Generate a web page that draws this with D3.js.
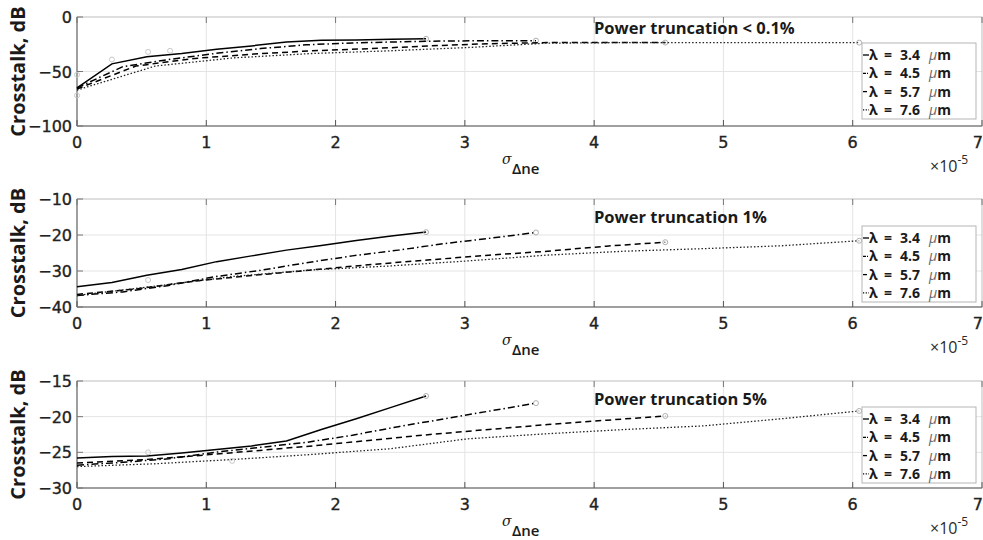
<!DOCTYPE html>
<html lang="en">
<head>
<meta charset="utf-8">
<title>Crosstalk</title>
<script src="https://cdn.jsdelivr.net/npm/d3@7"></script>
<style>
  body { margin: 0; background: #fff; }
  svg { display: block; font-family: "Open Sans", "DejaVu Sans", sans-serif; }
  .grid line { stroke: #e4e4e4; stroke-width: 1; }
  .tick-label { font-family: "DejaVu Sans", sans-serif; font-size: 16px; fill: #222; stroke: #222; stroke-width: 0.35px; }
  .ylabel { font-size: 20px; font-weight: 700; fill: #1a1a1a; }
  .title { font-size: 16.5px; font-weight: 700; fill: #1a1a1a; }
  .legend-text { font-size: 14px; font-weight: 700; fill: #1a1a1a; }
</style>
</head>
<body>
<svg width="983" height="540"></svg>
<script>

// x positions (x 1e-5) for each wavelength
var x34 = [0, 0.27, 0.54, 0.81, 1.08, 1.35, 1.62, 1.89, 2.16, 2.43, 2.70];
var x45 = [0, 0.355, 0.71, 1.065, 1.42, 1.775, 2.13, 2.485, 2.84, 3.195, 3.55];
var x57 = [0, 0.455, 0.91, 1.365, 1.82, 2.275, 2.73, 3.185, 3.64, 4.095, 4.55];
var x76 = [0, 0.605, 1.21, 1.815, 2.42, 3.025, 3.63, 4.235, 4.84, 5.445, 6.05];

var lambdas = ["3.4", "4.5", "5.7", "7.6"];
var xTicks = [0, 1, 2, 3, 4, 5, 6, 7];

// power truncation < 0.1%
var p1_34 = [-65, -43, -36.5, -33.5, -29.5, -26.5, -23, -21.3, -21, -20.5, -20];
var p1_45 = [-65, -45.5, -39, -33.5, -29, -25.5, -23.8, -22.8, -22, -21.8, -21.7];
var p1_57 = [-66, -45, -38, -34, -31, -29, -26.5, -24.5, -23.5, -23.5, -23.5];
var p1_76 = [-67, -45, -37.5, -33.5, -31, -28, -24, -23.5, -23.5, -23.5, -23.5];
var p1_yTicks = [0, -50, -100];

// power truncation 1%
var p2_34 = [-34.4, -33.2, -31.2, -29.6, -27.4, -25.8, -24.2, -22.9, -21.5, -20.3, -19.2];
var p2_45 = [-36.8, -35.8, -34, -31.6, -29.8, -27.7, -25.8, -24.2, -22.4, -20.9, -19.3];
var p2_57 = [-36.5, -35, -32.8, -31.2, -29.7, -28.2, -26.9, -25.6, -24.5, -23.1, -22];
var p2_76 = [-36.8, -34.2, -31.5, -29.7, -28.6, -27.2, -25.6, -24.5, -23.8, -23, -21.6];
var p2_yTicks = [-10, -20, -30, -40];

// power truncation 5%
var p3_34 = [-25.8, -25.6, -25.5, -25.1, -24.6, -24.1, -23.4, -21.8, -20.3, -18.7, -17.1];
var p3_45 = [-26.8, -26.4, -25.9, -25, -24.3, -23.6, -22.6, -21.4, -20.3, -19.2, -18.1];
var p3_57 = [-26.5, -26.1, -25.5, -24.8, -24.1, -23.3, -22.5, -21.8, -21.1, -20.5, -19.9];
var p3_76 = [-27, -26.6, -26, -25.3, -24.5, -23.1, -22.4, -21.8, -21.3, -20.3, -19.2];
var p3_yTicks = [-15, -20, -25, -30];

// faint gray sample markers
var p1_marks = [[0, -53], [0, -72], [0.27, -39], [0.55, -32], [0.72, -31]];
var p2_marks = [[0.55, -32.5]];
var p3_marks = [[0.55, -25], [1.2, -26.2]];

var panels = [
  { title: "Power truncation < 0.1%", top: 17, bottom: 126, ys: [p1_34, p1_45, p1_57, p1_76], yTicks: p1_yTicks, marks: p1_marks, legTop: 43 },
  { title: "Power truncation 1%", top: 199, bottom: 307, ys: [p2_34, p2_45, p2_57, p2_76], yTicks: p2_yTicks, marks: p2_marks, legTop: 226 },
  { title: "Power truncation 5%", top: 381, bottom: 488, ys: [p3_34, p3_45, p3_57, p3_76], yTicks: p3_yTicks, marks: p3_marks, legTop: 407 }
];

var xs = [x34, x45, x57, x76];
var dashes = [null, "7,3,1.5,3", "6,4", "1.5,2"];

var svg = d3.select("svg");
var x = d3.scaleLinear().domain([0, 7]).range([77, 982]);

panels.forEach(function(p) {
  var y = d3.scaleLinear().domain(d3.extent(p.yTicks)).range([p.bottom, p.top]);
  var g = svg.append("g");

  // grid
  var grid = g.append("g").attr("class", "grid");
  grid.selectAll(".gx").data(xTicks.slice(1, -1)).enter().append("line")
      .attr("x1", function(d) { return x(d); }).attr("x2", function(d) { return x(d); })
      .attr("y1", p.top).attr("y2", p.bottom);
  grid.selectAll(".gy").data(p.yTicks.slice(1, -1)).enter().append("line")
      .attr("x1", x(0)).attr("x2", x(7))
      .attr("y1", function(d) { return y(d); }).attr("y2", function(d) { return y(d); });

  // box
  g.append("rect")
      .attr("x", x(0)).attr("y", p.top)
      .attr("width", x(7) - x(0)).attr("height", p.bottom - p.top)
      .attr("fill", "none").attr("stroke", "#bdbdbd").attr("stroke-width", 1);
  g.append("line").attr("x1", x(0)).attr("x2", x(7)).attr("y1", p.bottom).attr("y2", p.bottom)
      .attr("stroke", "#8a8a8a").attr("stroke-width", 1.5);
  g.append("line").attr("x1", x(0)).attr("x2", x(0)).attr("y1", p.top).attr("y2", p.bottom)
      .attr("stroke", "#8a8a8a").attr("stroke-width", 1.5);

  // ticks (inside)
  xTicks.forEach(function(t) {
    g.append("line").attr("x1", x(t)).attr("x2", x(t)).attr("y1", p.bottom).attr("y2", p.bottom - 6)
        .attr("stroke", "#555").attr("stroke-width", 1);
    g.append("line").attr("x1", x(t)).attr("x2", x(t)).attr("y1", p.top).attr("y2", p.top + 6)
        .attr("stroke", "#777").attr("stroke-width", 1);
  });
  p.yTicks.forEach(function(t) {
    g.append("line").attr("x1", x(0)).attr("x2", x(0) + 6).attr("y1", y(t)).attr("y2", y(t))
        .attr("stroke", "#777").attr("stroke-width", 1);
  });

  // tick labels
  g.selectAll(".xt").data(xTicks).enter().append("text")
      .attr("class", "tick-label")
      .attr("x", function(d) { return d === 7 ? 983 : x(d); })
      .attr("y", p.bottom + 22)
      .attr("text-anchor", function(d) { return d === 7 ? "end" : "middle"; })
      .text(function(d) { return d; });
  g.selectAll(".yt").data(p.yTicks).enter().append("text")
      .attr("class", "tick-label")
      .attr("x", 72)
      .attr("y", function(d) { return y(d) + 6; })
      .attr("text-anchor", "end")
      .text(function(d) { return d < 0 ? "\u2212" + Math.abs(d) : d; });

  // axis labels
  g.append("text").attr("class", "ylabel")
      .attr("transform", "translate(25," + ((p.top + p.bottom) / 2) + ") rotate(-90)")
      .attr("text-anchor", "middle")
      .text("Crosstalk, dB");
  g.append("text")
      .attr("x", 502).attr("y", p.bottom + 38)
      .attr("font-size", 14).attr("font-style", "italic").attr("fill", "#1a1a1a")
      .attr("font-family", "DejaVu Serif, serif")
      .text("\u03c3");
  g.append("text")
      .attr("x", 512).attr("y", p.bottom + 48)
      .attr("font-size", 15).attr("font-weight", 600).attr("fill", "#1a1a1a")
      .text("\u0394ne");
  var ex = g.append("text").attr("x", 930).attr("y", p.bottom + 46)
      .attr("font-size", 16).attr("fill", "#2a2a2a");
  ex.append("tspan").text("\u00d710");
  ex.append("tspan").attr("dy", -8).attr("font-size", 12).text("-5");

  // title
  g.append("text").attr("class", "title")
      .attr("x", 594).attr("y", p.top + (p === panels[0] ? 17 : 24))
      .text(p.title);

  // curves
  var line = d3.line()
      .x(function(d) { return x(d[0]); })
      .y(function(d) { return y(d[1]); });

  p.ys.forEach(function(vals, i) {
    var pts = xs[i].map(function(xv, k) { return [xv, vals[k]]; });
    g.append("path")
        .datum(pts)
        .attr("d", line)
        .attr("fill", "none")
        .attr("stroke", i === 3 ? "#222" : "#000")
        .attr("stroke-width", i === 3 ? 1.3 : 1.5)
        .attr("stroke-dasharray", dashes[i]);
    var last = pts[pts.length - 1];
    g.append("circle")
        .attr("cx", x(last[0])).attr("cy", y(last[1])).attr("r", 2.5)
        .attr("fill", "none").attr("stroke", "#b0b0b0").attr("stroke-width", 1);
  });

  g.selectAll(".mk").data(p.marks).enter().append("circle")
      .attr("cx", function(d) { return x(d[0]); })
      .attr("cy", function(d) { return y(d[1]); })
      .attr("r", 2.5)
      .attr("fill", "none").attr("stroke", "#c8c8c8").attr("stroke-width", 1);

  // legend
  var lg = g.append("g").attr("transform", "translate(862," + p.legTop + ")");
  lg.append("rect").attr("width", 114).attr("height", 76)
      .attr("fill", "#fff").attr("stroke", "#b5b5b5").attr("stroke-width", 1);
  lambdas.forEach(function(l, i) {
    var yy = 12 + i * 18.3;
    lg.append("line").attr("x1", 1).attr("x2", 7).attr("y1", yy).attr("y2", yy)
        .attr("stroke", "#000").attr("stroke-width", 1.3)
        .attr("stroke-dasharray", i === 1 ? "3,1,1,1" : i === 2 ? "4,3" : i === 3 ? "1.2,1.5" : null);
    var ty = yy + 5;
    lg.append("text").attr("class", "legend-text").attr("x", 7).attr("y", ty).text("\u03bb");
    lg.append("text").attr("class", "legend-text").attr("x", 22).attr("y", ty).text("=");
    lg.append("text").attr("class", "legend-text").attr("x", 38).attr("y", ty).text(l);
    var t = lg.append("text").attr("class", "legend-text").attr("x", 67).attr("y", ty);
    t.append("tspan").attr("font-style", "italic").attr("font-weight", 400).attr("fill", "#666").text("\u03bc");
    t.append("tspan").text("m");
  });
});

</script>
</body>
</html>
